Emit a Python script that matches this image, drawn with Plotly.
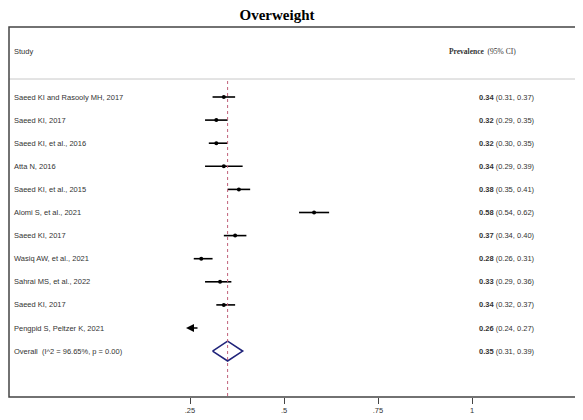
import plotly.graph_objects as go

# forest plot data
studies = [
    "Saeed KI and Rasooly MH, 2017",
    "Saeed KI, 2017",
    "Saeed KI, et al., 2016",
    "Atta N, 2016",
    "Saeed KI, et al., 2015",
    "Alomi S, et al., 2021",
    "Saeed KI, 2017",
    "Wasiq AW, et al., 2021",
    "Sahrai MS, et al., 2022",
    "Saeed KI, 2017",
    "Pengpid S, Peltzer K, 2021",
]
est = [0.34, 0.32, 0.32, 0.34, 0.38, 0.58, 0.37, 0.28, 0.33, 0.34, 0.26]
lo = [0.31, 0.29, 0.30, 0.29, 0.35, 0.54, 0.34, 0.26, 0.29, 0.32, 0.24]
hi = [0.37, 0.35, 0.35, 0.39, 0.41, 0.62, 0.40, 0.31, 0.36, 0.37, 0.27]
overall_label = "Overall  (I^2 = 96.65%, p = 0.00)"
overall = [0.35, 0.31, 0.39]
tick_vals = [0.25, 0.5, 0.75, 1]
tick_text = [".25", ".5", ".75", "1"]
x_min = 0.25  # lower limit of the axis, CIs beyond it get an arrow

# the page puts the figure 8px in from the corner, so size it to fill the rest
OFF = 8
W, H = 583 - OFF, 420 - OFF

# pixel helpers in reference coords: x0 at 96px, 376 px per unit;
# rows start at 97px, 23.1px apart
def px2x(p):
    return (p - 96) / 376.0

def px2y(p):
    return (p - 97) / 23.1

fig = go.Figure()
text_col = "#333333"
lab_font = dict(family="Liberation Sans, Arial", size=7.5, color=text_col)

n = len(studies)
for i in range(n):
    if lo[i] < x_min:
        # arrow for CI running off the axis
        fig.add_annotation(x=px2x(186), y=i, ax=px2x(199), ay=i, xref="x", yref="y",
                           axref="x", ayref="y", text="", showarrow=True,
                           arrowhead=2, arrowsize=1, arrowwidth=1.6, arrowcolor="black")
    else:
        fig.add_trace(go.Scatter(x=[lo[i], hi[i]], y=[i, i], mode="lines",
                                 line=dict(color="black", width=1.6),
                                 showlegend=False, hoverinfo="skip"))
        fig.add_trace(go.Scatter(x=[est[i]], y=[i], mode="markers",
                                 marker=dict(color="black", size=4, symbol="circle"),
                                 showlegend=False))
    fig.add_annotation(x=px2x(12), y=i, text=studies[i], showarrow=False,
                       xanchor="left", font=lab_font)
    fig.add_annotation(x=px2x(537), y=i, showarrow=False, xanchor="right",
                       text="<b>%.2f</b> (%.2f, %.2f)" % (est[i], lo[i], hi[i]),
                       font=lab_font)

# overall diamond
yo = n
fig.add_trace(go.Scatter(x=[overall[1], overall[0], overall[2], overall[0], overall[1]],
                         y=[yo, yo - 0.43, yo, yo + 0.43, yo], mode="lines",
                         line=dict(color="#1f237a", width=1.6),
                         showlegend=False, hoverinfo="skip"))
fig.add_annotation(x=px2x(12), y=yo, text=overall_label, showarrow=False,
                   xanchor="left", font=lab_font)
fig.add_annotation(x=px2x(537), y=yo, showarrow=False, xanchor="right",
                   text="<b>%.2f</b> (%.2f, %.2f)" % tuple(overall), font=lab_font)

# header
fig.add_annotation(x=px2x(12), y=px2y(51), text="Study", showarrow=False,
                   xanchor="left", font=lab_font)
fig.add_annotation(x=px2x(447), y=px2y(51), showarrow=False, xanchor="left",
                   text="<b>Prevalence</b>  (95% CI)",
                   font=dict(family="Liberation Serif", size=7.5, color=text_col))
fig.add_shape(type="line", xref="paper", x0=0, x1=1, y0=px2y(79), y1=px2y(79),
              line=dict(color="#c8c8c8", width=1))

# overall estimate reference line
fig.add_shape(type="line", x0=overall[0], x1=overall[0], y0=px2y(81), y1=px2y(397),
              line=dict(color="#c0607a", width=1, dash="3px,3px"))

# frame
fig.add_shape(type="rect", xref="paper", yref="paper", x0=0, x1=1, y0=0, y1=1,
              line=dict(color="#444444", width=1.5))

left_px, right_px, top_px, bot_px = 9, 577, 27, 397
fig.update_layout(
    width=W, height=H,
    margin=dict(l=left_px - OFF, r=W - (right_px - OFF), t=top_px - OFF, b=H - (bot_px - OFF)),
    paper_bgcolor="white", plot_bgcolor="white",
    title=dict(text="<b>Overweight</b>", x=(277 - OFF) / W, xanchor="center",
               y=1, yanchor="top", pad=dict(t=1),
               font=dict(family="Liberation Serif, Times New Roman", size=15, color="black")),
    xaxis=dict(range=[px2x(left_px), px2x(right_px)], tickvals=tick_vals, ticktext=tick_text,
               ticks="outside", ticklen=6, tickwidth=1.3, tickcolor="#444444", showgrid=False,
               zeroline=False, showline=False,
               tickfont=dict(family="Liberation Sans, Arial", size=7.5, color=text_col)),
    yaxis=dict(range=[px2y(bot_px), px2y(top_px)], visible=False, showgrid=False, zeroline=False),
)

fig.write_html("out.html")
